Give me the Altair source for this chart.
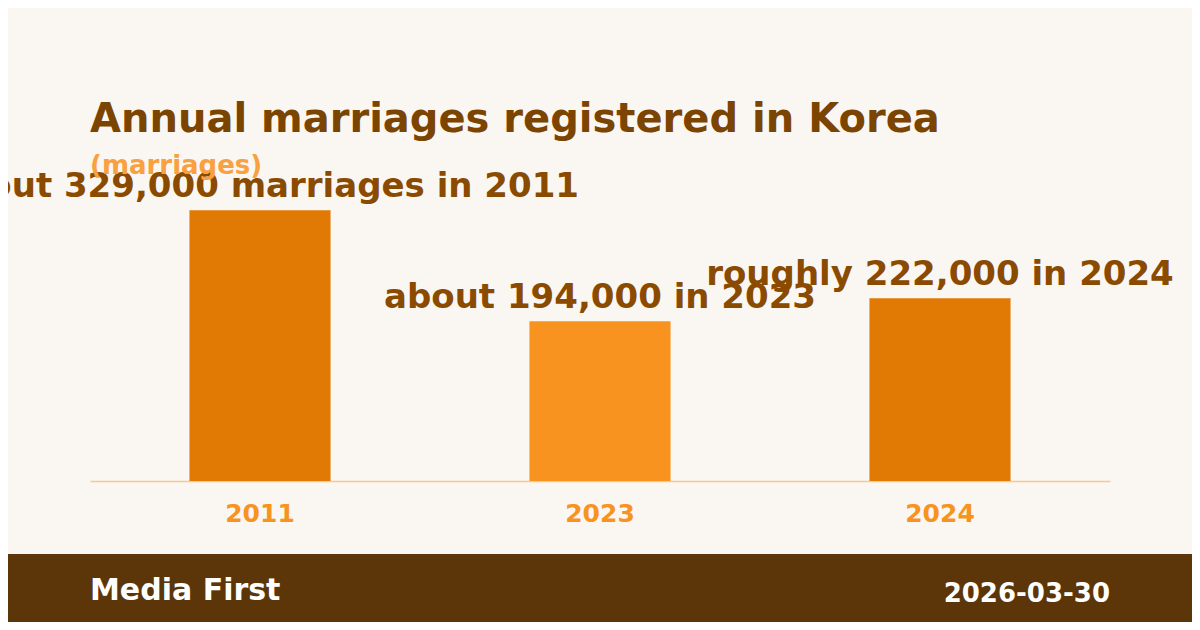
import pandas as pd
import altair as alt

# DONNÉES
# -------
years = ['2011', '2023', '2024']
marriages = [329000, 194000, 222000]
notes = ['about 329,000 marriages in 2011', 'about 194,000 in 2023', 'roughly 222,000 in 2024']
bar_colors = ['#e07a05', '#f7931e', '#e07a05']

title_text = 'Annual marriages registered in Korea'
subtitle_text = '(marriages)'
source_text = 'Media First'
date_text = '2026-03-30'

font = 'DejaVu Sans'
brown = '#7b4400'
note_brown = '#8a4a00'
orange = '#f7931e'

df = pd.DataFrame({'year': years, 'marriages': marriages, 'note': notes})

x_enc = alt.X('year:N', sort=years, title=None,
              scale=alt.Scale(paddingInner=0.585, paddingOuter=0.2925),
              axis=alt.Axis(labelAngle=0, ticks=False, grid=False,
                            domainColor='#f9c88a', domainWidth=1.5,
                            labelColor=orange, labelFont=font, labelFontSize=25,
                            labelFontWeight='bold', labelBaseline='alphabetic',
                            labelPadding=40))
y_enc = alt.Y('marriages:Q', title=None, axis=None,
              scale=alt.Scale(domain=[0, 350000]))

bars = alt.Chart(df).mark_bar().encode(
    x=x_enc,
    y=y_enc,
    color=alt.Color('year:N', scale=alt.Scale(domain=years, range=bar_colors), legend=None)
)

annotations = alt.Chart(df).mark_text(
    font=font, fontSize=34, fontWeight='bold', color=note_brown,
    baseline='alphabetic', dy=-13.5
).encode(x=x_enc, y=y_enc, text='note:N')

# En-tête et bandeau de pied de page
titre = alt.Chart(pd.DataFrame({'t': [title_text]})).mark_text(
    font=font, fontSize=40, fontWeight='bold', color=brown,
    align='left', baseline='alphabetic'
).encode(x=alt.value(0), y=alt.value(-61.3), text='t:N')

sous_titre = alt.Chart(pd.DataFrame({'t': [subtitle_text]})).mark_text(
    font=font, fontSize=26, fontWeight='bold', color='#f9a040',
    align='left', baseline='alphabetic'
).encode(x=alt.value(0), y=alt.value(-18.7), text='t:N')

bandeau = alt.Chart(pd.DataFrame({'t': [1]})).mark_rect(color='#5c3608').encode(
    x=alt.value(-82), x2=alt.value(1102), y=alt.value(361), y2=alt.value(430)
)

source = alt.Chart(pd.DataFrame({'t': [source_text]})).mark_text(
    font=font, fontSize=30, fontWeight='bold', color='white',
    align='left', baseline='alphabetic'
).encode(x=alt.value(0), y=alt.value(407), text='t:N')

date = alt.Chart(pd.DataFrame({'t': [date_text]})).mark_text(
    font=font, fontSize=26, fontWeight='bold', color='white',
    align='right', baseline='alphabetic'
).encode(x=alt.value(1020), y=alt.value(408.5), text='t:N')

chart = alt.layer(bandeau, bars, annotations, titre, sous_titre, source, date).properties(
    width=1020,
    height=288,
    padding={'left': 82, 'top': 185, 'right': 82, 'bottom': 141},
    autosize='none',
    background='#faf7f2'
).configure_view(strokeWidth=0)

chart.save("out.html", embed_options={"renderer": "svg", "actions": False})
